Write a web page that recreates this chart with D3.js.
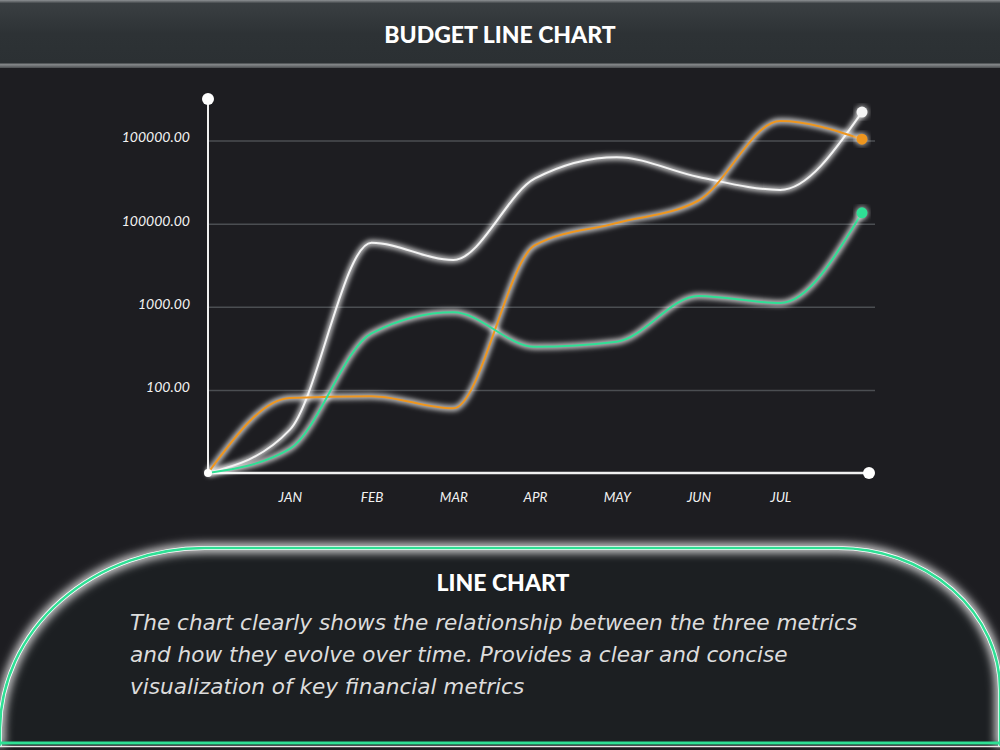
<!DOCTYPE html>
<html>
  <head>
    <meta charset="utf-8">
    <title>Budget line chart</title>
    <script src="https://cdn.jsdelivr.net/npm/d3@7"></script>
    <style>
      html, body { margin: 0; padding: 0; background: #1d1d21; }
      #chart { display: block; }
      .ylab { font-family: Lato, sans-serif; font-style: italic; font-size: 14px; fill: #f2f2f2; }
      .xlab { font-family: Lato, sans-serif; font-style: italic; font-size: 13.5px; fill: #f2f2f2; }
      .title { font-family: Lato, sans-serif; font-weight: 900; font-size: 23px; fill: #fff; }
      .desc { font-family: "DejaVu Sans", sans-serif; font-style: italic; font-size: 21.6px; fill: #dcdcdc; }
    </style>
  </head>
  <body>
    <svg id="chart" width="1000" height="750"></svg>
    <script>
      // chart data (index 0 is the origin point, last one is the end point)
      const steps = ["start", "JAN", "FEB", "MAR", "APR", "MAY", "JUN", "JUL", "end"];
      const months = ["JAN", "FEB", "MAR", "APR", "MAY", "JUN", "JUL"];
      const whiteSeries = [10, 33, 5900, 3650, 35000, 63000, 36500, 25500, 220000];
      const orangeSeries = [10, 80, 84, 60, 5500, 10200, 19000, 172000, 104000];
      const greenSeries = [10, 19.5, 480, 860, 330, 380, 1350, 1110, 13500];
      const yTicks = [100, 1000, 10000, 100000];
      const yTickLabels = ["100.00", "1000.00", "100000.00", "100000.00"];
      const description = [
        "The chart clearly shows the relationship between the three metrics",
        "and how they evolve over time. Provides a clear and concise",
        "visualization of key financial metrics"
      ];

      const series = [
        { key: "white", color: "#f4f4f4", values: whiteSeries },
        { key: "orange", color: "#ee961f", values: orangeSeries },
        { key: "green", color: "#2fe095", values: greenSeries }
      ];

      const svg = d3.select("#chart");
      const margin = { top: 99, left: 208, right: 862, bottom: 473 };

      // filters
      const defs = svg.append("defs");
      const glow = defs.append("filter").attr("id", "glow")
        .attr("x", "-10%").attr("y", "-10%").attr("width", "120%").attr("height", "120%");
      glow.append("feGaussianBlur").attr("stdDeviation", 2.6);
      const panelGlow = defs.append("filter").attr("id", "panelGlow")
        .attr("x", "-10%").attr("y", "-30%").attr("width", "120%").attr("height", "160%");
      panelGlow.append("feGaussianBlur").attr("stdDeviation", 5);
      const headGrad = defs.append("linearGradient").attr("id", "headGrad")
        .attr("x1", 0).attr("x2", 0).attr("y1", 0).attr("y2", 1);
      headGrad.append("stop").attr("offset", "0%").attr("stop-color", "#8d9093");
      headGrad.append("stop").attr("offset", "5%").attr("stop-color", "#3a3f42");
      headGrad.append("stop").attr("offset", "50%").attr("stop-color", "#2d3235");
      headGrad.append("stop").attr("offset", "92%").attr("stop-color", "#2b3033");
      headGrad.append("stop").attr("offset", "95%").attr("stop-color", "#85888a");
      headGrad.append("stop").attr("offset", "100%").attr("stop-color", "#4a4d50");

      // header
      svg.append("rect")
        .attr("x", 0).attr("y", 0).attr("width", 1000).attr("height", 68)
        .attr("fill", "url(#headGrad)");
      svg.append("text")
        .attr("class", "title")
        .attr("x", 500).attr("y", 43)
        .attr("text-anchor", "middle")
        .text("BUDGET LINE CHART");

      // scales
      const x = d3.scalePoint()
        .domain(steps)
        .range([margin.left, margin.right]);
      const y = d3.scaleLog()
        .domain([10, Math.pow(10, 5.5)])
        .range([margin.bottom, margin.top]);

      // gridlines
      const grid = svg.append("g")
        .attr("transform", "translate(" + margin.left + ",0)")
        .call(d3.axisLeft(y).tickValues(yTicks).tickSize(-(875 - margin.left)).tickFormat(""));
      grid.select(".domain").remove();
      grid.selectAll("line").attr("stroke", "#4b4e52").attr("stroke-width", 1.5);

      // y axis labels
      const yAxisGroup = svg.append("g")
        .attr("transform", "translate(" + margin.left + ",0)")
        .call(d3.axisLeft(y).tickValues(yTicks).tickSize(0).tickPadding(18)
          .tickFormat(function(d, i) { return yTickLabels[i]; }));
      yAxisGroup.select(".domain").remove();
      yAxisGroup.selectAll("text").attr("class", "ylab").attr("dy", "0.1em");

      // x axis labels
      const xAxisGroup = svg.append("g")
        .attr("transform", "translate(0," + margin.bottom + ")")
        .call(d3.axisBottom(x).tickValues(months).tickSize(0).tickPadding(19));
      xAxisGroup.select(".domain").remove();
      xAxisGroup.selectAll("text").attr("class", "xlab");

      // axis lines with end dots
      svg.append("line")
        .attr("x1", margin.left).attr("x2", margin.left)
        .attr("y1", margin.bottom).attr("y2", margin.top)
        .attr("stroke", "#f0f0f0").attr("stroke-width", 2);
      svg.append("line")
        .attr("x1", margin.left).attr("x2", 869)
        .attr("y1", margin.bottom).attr("y2", margin.bottom)
        .attr("stroke", "#f0f0f0").attr("stroke-width", 2.5);
      svg.append("circle").attr("cx", margin.left).attr("cy", margin.top).attr("r", 6).attr("fill", "#fff");
      svg.append("circle").attr("cx", 869).attr("cy", margin.bottom).attr("r", 6).attr("fill", "#fff");

      // lines
      const line = d3.line()
        .x(function(d, i) { return x(steps[i]); })
        .y(function(d) { return y(d); })
        .curve(d3.curveMonotoneX);

      const lines = svg.append("g");
      series.forEach(function(s) {
        lines.append("path")
          .attr("d", line(s.values))
          .attr("fill", "none")
          .attr("stroke", "#ffffff")
          .attr("stroke-opacity", 0.75)
          .attr("stroke-width", 6)
          .attr("filter", "url(#glow)");
      });
      series.forEach(function(s) {
        lines.append("path")
          .attr("d", line(s.values))
          .attr("fill", "none")
          .attr("stroke", s.color)
          .attr("stroke-width", 2);
      });
      // end markers
      series.forEach(function(s) {
        const last = s.values.length - 1;
        lines.append("circle")
          .attr("cx", x(steps[last])).attr("cy", y(s.values[last])).attr("r", 7)
          .attr("fill", "#fff").attr("opacity", 0.5).attr("filter", "url(#glow)");
        lines.append("circle")
          .attr("cx", x(steps[last])).attr("cy", y(s.values[last])).attr("r", 5.5)
          .attr("fill", s.color);
      });
      lines.append("circle")
        .attr("cx", x(steps[0])).attr("cy", y(whiteSeries[0])).attr("r", 4)
        .attr("fill", "#fff");

      // bottom panel
      const panelPath = "M0,746 L0,728 A205,182 0 0 1 205,548 L838,548 A162,142 0 0 1 1000,690 L1000,746";
      svg.append("path")
        .attr("d", panelPath + " Z")
        .attr("fill", "#1c1f22");
      svg.append("path")
        .attr("d", panelPath)
        .attr("fill", "none")
        .attr("stroke", "#ffffff")
        .attr("stroke-width", 8)
        .attr("filter", "url(#panelGlow)");
      svg.append("path")
        .attr("d", panelPath)
        .attr("fill", "none")
        .attr("stroke", "#ffffff")
        .attr("stroke-width", 4);
      svg.append("path")
        .attr("d", panelPath)
        .attr("fill", "none")
        .attr("stroke", "#2fe095")
        .attr("stroke-width", 2.5);
      svg.append("line")
        .attr("x1", 0).attr("x2", 1000).attr("y1", 743).attr("y2", 743)
        .attr("stroke", "#2fe095").attr("stroke-width", 3);
      svg.append("line")
        .attr("x1", 0).attr("x2", 1000).attr("y1", 746.5).attr("y2", 746.5)
        .attr("stroke", "#e8e8e8").attr("stroke-width", 1.5);

      svg.append("text")
        .attr("class", "title")
        .attr("x", 503).attr("y", 591)
        .attr("text-anchor", "middle")
        .text("LINE CHART");
      svg.selectAll(".desc")
        .data(description)
        .enter()
        .append("text")
          .attr("class", "desc")
          .attr("x", 130)
          .attr("y", function(d, i) { return 630 + i * 32; })
          .text(function(d) { return d; });
    </script>
  </body>
</html>
